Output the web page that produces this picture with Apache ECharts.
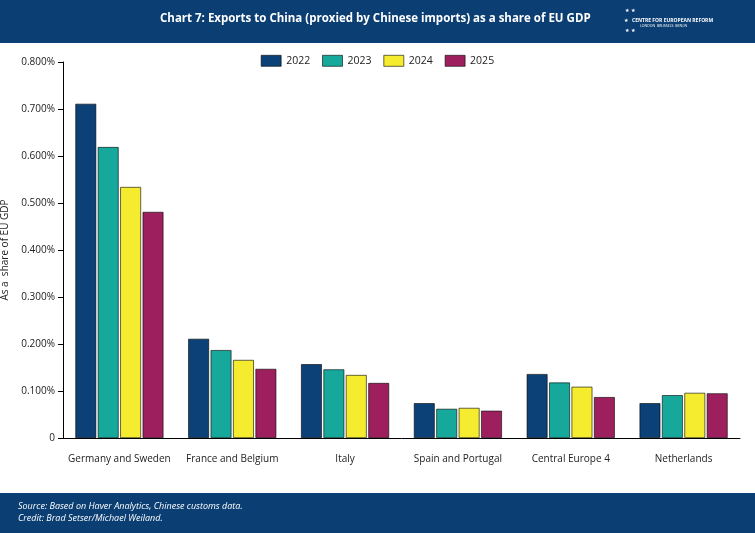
<!DOCTYPE html><html><head><meta charset="utf-8">
<script src="https://cdn.jsdelivr.net/npm/echarts@6/dist/echarts.min.js"></script>
<style>body{margin:0}#c{width:755px;height:533px}</style></head><body><div id="c"></div>
<script>
const categories=["Germany and Sweden","France and Belgium","Italy","Spain and Portugal","Central Europe 4","Netherlands"];
const years=["2022","2023","2024","2025"];
const v2022=[0.711,0.211,0.157,0.074,0.136,0.074];
const v2023=[0.619,0.187,0.146,0.062,0.118,0.091];
const v2024=[0.534,0.166,0.134,0.064,0.109,0.096];
const v2025=[0.481,0.147,0.117,0.058,0.087,0.095];
const colors=["#0b4176","#17a89c","#f5ec2f","#9e1f5e"];
const vals=[v2022,v2023,v2024,v2025];
const ch=echarts.init(document.getElementById('c'));
ch.setOption({
animation:false,
textStyle:{fontFamily:"Open Sans"},
graphic:[
{type:'rect',shape:{x:0,y:0,width:755,height:43},style:{fill:'#0b3f73'}},
{type:'rect',shape:{x:0,y:493,width:755,height:40},style:{fill:'#0b3f73'}},
{type:'text',left:160,top:13,style:{text:'Chart 7: Exports to China (proxied by Chinese imports) as a share of EU GDP',fill:'#fff',font:'bold 11.5px "Open Sans"'}},
{type:'text',left:632,top:18,style:{text:'CENTRE FOR EUROPEAN REFORM',fill:'#fff',font:'bold 5px "Open Sans"'}},
{type:'text',left:640,top:24,style:{text:'LONDON  BRUSSELS  BERLIN',fill:'#fff',font:'3.5px "Open Sans"'}},
{type:'text',left:624,top:6,style:{text:' ★ ★\n★     \n ★ ★',fill:'#fff',font:'5px sans-serif',lineHeight:10}},
{type:'text',left:18,top:500,style:{text:'Source: Based on Haver Analytics, Chinese customs data.\nCredit: Brad Setser/Michael Weiland.',fill:'#fff',font:'italic 9px "Open Sans"',lineHeight:12}}
],
legend:{top:50,left:'center',icon:'rect',itemWidth:20,itemHeight:11,itemGap:12,itemStyle:{borderColor:'#000',borderWidth:0.6},textStyle:{fontSize:10.5,color:'#222'},data:years},
grid:{left:63,right:15,top:62,bottom:95,containLabel:false,outerBoundsMode:'none'},
xAxis:{type:'category',data:categories,axisTick:{show:false},axisLine:{lineStyle:{color:'#000'}},axisLabel:{color:'#222',fontSize:10,margin:16,interval:0}},
yAxis:{type:'value',min:0,max:0.8,interval:0.1,name:'As a  share of EU GDP',nameLocation:'middle',nameGap:47,nameTextStyle:{fontSize:10,color:'#222'},
 splitLine:{show:false},axisLine:{show:true,lineStyle:{color:'#000'}},axisTick:{show:true,inside:false,length:5,lineStyle:{color:'#000'}},
 axisLabel:{color:'#222',fontSize:10,margin:8,formatter:v=>v===0?'0':v.toFixed(3)+'%'}},
series:years.map((y,i)=>({name:y,type:'bar',data:vals[i],barGap:'8%',barCategoryGap:'22%',itemStyle:{color:colors[i],borderColor:'#000',borderWidth:0.6}}))
});
</script></body></html>
